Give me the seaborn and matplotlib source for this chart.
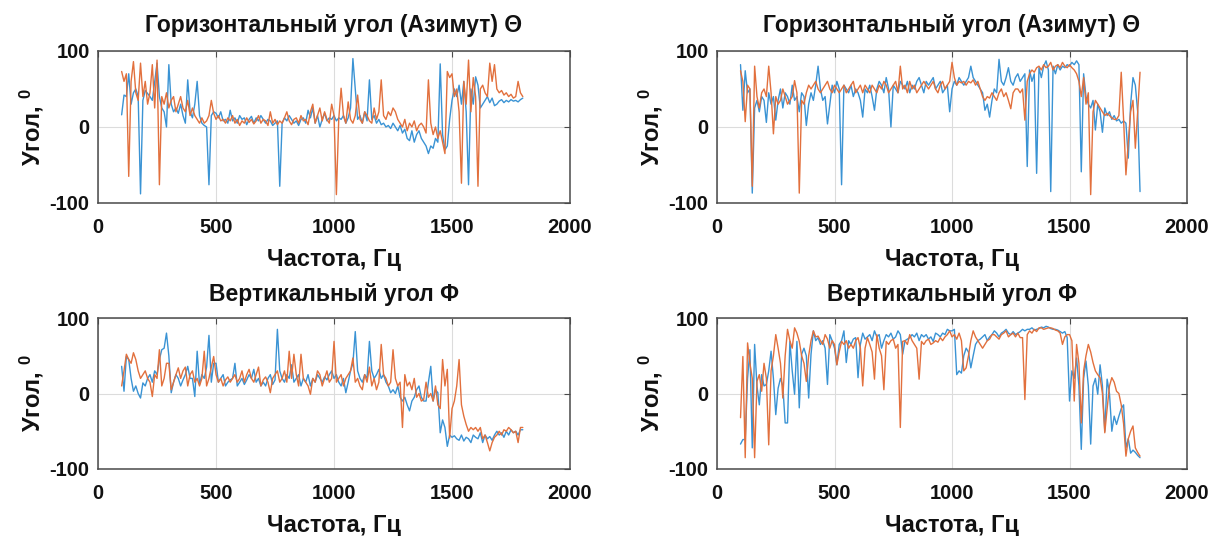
import numpy as np
import pandas as pd
import seaborn as sns
import matplotlib
matplotlib.use("Agg")
import matplotlib.pyplot as plt

# Frequency grid: 100 .. 1800 Hz, step 10 Hz
freq = np.arange(100, 1810, 10)

title_az = "Горизонтальный угол (Азимут) Θ"
title_el = "Вертикальный угол Φ"
xlabel = "Частота, Гц"
ylabel = "Угол, $^{0}$"
xticks = [0, 500, 1000, 1500, 2000]
yticks = [-100, 0, 100]

# Top-left: azimuth, set 1
az1_blue = [16, 42, 40, 70, 30, 45, 50, 40, -88, 35,
            48, 44, 40, 35, 60, 84, 40, 25, 20, 0,
            82, 30, 20, 25, 18, 30, 15, 5, 62, 20,
            12, 30, 60, 15, 5, 2, 0, -76, 15, 20,
            18, 12, 20, 8, 10, 5, 22, 8, 12, 5,
            15, 10, 12, 3, 10, 14, 5, 12, 8, 15,
            10, 5, 10, 8, 2, 5, 8, -78, 5, 12,
            8, 15, 10, 5, 8, 2, 10, 12, 5, 22,
            12, 25, 5, 15, 0, 10, 18, 8, 12, 10,
            15, 8, 12, 10, 15, 5, 12, 25, 90, 50,
            10, 15, 5, 20, 8, 62, 10, 15, 5, 10,
            3, 5, 0, 2, -2, 5, 0, -5, 2, -8,
            -3, -15, -18, -5, -20, -10, -5, -15, -20, -25,
            -35, -25, -28, -15, -20, 83, -10, -30, -25, 10,
            35, 50, 40, 55, 30, 60, 20, -76, 50, 30,
            66, 55, 25, 30, 35, 40, 32, 38, 28, 30,
            34, 36, 32, 35, 33, 36, 34, 35, 33, 36,
            38]
az1_orange = [73, 60, 70, -65, 60, 86, 45, 35, 84, 40,
              60, 30, 45, 82, 25, 88, -76, 40, 30, 45,
              25, 35, 40, 20, 30, 40, 25, 20, 35, 15,
              25, 15, 10, 5, 12, 5, 8, 15, 35, 18,
              10, 15, 8, 10, 5, 12, 8, 15, 5, 10,
              2, 8, 5, 12, 6, 10, 4, 8, 15, 5,
              10, 8, 2, 20, 5, 10, 3, 8, 5, 12,
              20, 8, 3, 10, 12, 5, 15, 8, 10, 3,
              20, 30, 5, 15, 25, 8, 20, 10, 5, 30,
              15, -89, 10, 51, 15, 5, 33, 10, 5, 15,
              42, 10, 5, 20, 15, 8, 5, 25, 10, 20,
              62, 15, 10, 20, 15, 25, 20, 10, 5, 0,
              10, -5, 5, 0, 8, -5, 2, 5, 0, -8,
              62, 5, -10, 0, -15, -5, -20, -35, 73, 65,
              70, 40, 50, 20, -74, 60, 30, 88, 20, 65,
              40, -78, 50, 55, 45, 40, 84, 60, 82, 50,
              45, 48, 42, 45, 40, 43, 38, 40, 60, 45,
              40]

# Top-right: azimuth, set 2
az2_blue = [82, 22, 74, 45, 50, -87, 25, 35, 20, 40,
            35, 6, 45, 30, 40, 9, 35, 50, 25, 45,
            40, 30, 55, 35, 40, 20, 45, 40, 2, 30,
            45, 35, 55, 80, 50, 35, 40, 4, 30, 55,
            45, 60, 50, -76, 55, 50, 45, 55, 40, 50,
            45, 35, 13, 50, 45, 55, 40, 22, 50, 60,
            55, 45, 65, 50, 0, 55, 50, 45, 60, 55,
            50, 60, 45, 55, 50, 60, 65, 55, 45, 60,
            55, 60, 65, 50, 55, 60, 45, 50, 55, 20,
            50, 60, 55, 65, 60, 55, 60, 65, 80, 65,
            60, 55, 50, 45, 22, 30, 13, 35, 50, 45,
            89, 60, 55, 65, 78, 60, 55, 65, 70, 60,
            65, 70, -52, 75, 60, 70, -61, 78, 65, 80,
            87, 75, -85, 80, 70, 82, 75, 80, 78, 82,
            80, 85, 82, 87, 82, -59, 70, 40, 30, 25,
            35, -4, 30, 20, -7, 25, 15, 20, 10, 15,
            8, 10, 5, 8, 5, -41, 30, 65, 55, 20,
            -85]
az2_orange = [74, 60, 7, 55, 50, -78, 80, 40, 25, 45,
              50, 40, 80, 45, -9, 40, 30, 35, 50, 40,
              30, 35, 40, 61, 45, -87, 35, 30, 45, 55,
              50, 55, 60, 50, 45, 50, 55, 60, 50, 45,
              55, 50, 45, 50, 55, 45, 50, 55, 60, 45,
              50, 55, 45, 55, 50, 45, 55, 50, 45, 55,
              50, 60, 55, 45, 50, 55, 60, 45, 80, 50,
              55, 45, 60, 50, 55, 45, 50, 55, 60, 55,
              50, 55, 60, 50, 45, 55, 60, 50, 55, 60,
              85, 65, 55, 60, 58, 60, 55, 60, 58, 62,
              55, 60, 50, 40, 35, 40, 38, 45, 40, 35,
              45, 50, 40, 45, 35, 24, 45, 50, 50, 45,
              50, 9, 60, 70, 75, 72, 78, 80, 75, 82,
              78, 80, 85, 75, 80, 82, 78, 85, 80, 78,
              82, 78, 75, 70, 60, 40, 65, 30, 45, -89,
              20, 35, 30, 25, 20, 15, 18, 15, 12, 10,
              10, 15, 72, 10, -63, -20, 20, 35, -28, 20,
              72]

# Bottom-left: elevation, set 1
el1_blue = [36, 3, 49, 45, 20, 3, 10, 0, -6, 14,
            10, 20, 25, 15, 30, 25, 45, 58, 60, 80,
            50, 1, 15, 25, 20, 10, 18, 25, 36, 20,
            20, -4, 56, 12, 25, 20, 35, 77, 15, 40,
            40, 15, 20, 25, 10, 15, 18, 20, 40, 10,
            15, 20, 12, 18, 25, 20, 32, 15, 20, 10,
            15, 10, 20, 25, 12, 18, 85, 30, 20, 15,
            25, 20, 38, 15, 20, 25, 10, 20, 15, 25,
            10, 20, 15, 25, 20, 15, 22, 18, 25, 30,
            20, 25, 15, 10, 20, 1, 15, 30, 40, 82,
            30, 20, 15, 25, 20, 69, 30, 20, 25, 32,
            20, 25, 15, 10, 1, 5, 0, 10, -5, -10,
            -5, -15, -23, -10, -5, 5, 10, -5, -10, -10,
            15, 36, -10, 5, 1, -52, -35, -45, -70, -55,
            -58, -56, -60, -62, -55, -63, -58, -60, -65, -55,
            -58, -60, -52, -65, -55, -60, -57, -62, -55, -50,
            -55, -52, -58, -50, -55, -48, -52, -50, -55, -48,
            -48]
el1_orange = [10, 30, 52, 45, 40, 54, 45, 30, 20, 25,
              30, 20, 15, -4, 25, 20, 58, 10, 20, 40,
              40, 5, 15, 25, 34, 20, 30, 35, 10, 25,
              30, 15, 20, 10, 20, 56, 10, 20, 35, 49,
              25, 15, 20, 10, 18, 22, 15, 20, 25, 15,
              20, 30, 15, 25, 32, 20, 15, 25, 35, 10,
              18, 22, 15, 1, 20, 25, 30, 15, 20, 30,
              15, 56, 20, 52, 25, 10, 52, 20, 15, 10,
              -1, 20, 15, 30, 25, 10, 20, 30, 15, 20,
              69, 15, 20, 25, 10, 20, 25, 30, 47, 15,
              20, 10, 5, 25, 15, 35, 10, 20, 5, 15,
              65, 25, 20, 10, 15, 58, 20, 10, 15, -45,
              25, 10, 15, 5, 20, -5, 0, -10, -8, 15,
              -5, 0, -10, 10, -15, -20, 45, 10, 32, -59,
              -20, -10, 10, 45, -15, -30, -41, -50, -45, -48,
              -45, -50, -45, -60, -55, -65, -76, -65, -58, -55,
              -50, -55, -48, -50, -45, -48, -52, -50, -65, -45,
              -45]

# Bottom-right: elevation, set 2
el2_blue = [-67, -61, -61, 20, 58, -72, 65, 10, -15, 25,
            10, 12, 30, 56, 20, -28, 7, 20, 10, -39,
            -39, 69, 30, -1, 69, -19, 52, 60, 50, -6,
            52, 83, 70, 74, 65, 70, 60, 12, 78, 70,
            60, 38, 65, 70, 83, 41, 70, 65, 72, 74,
            21, 65, 80, 72, 75, 78, 70, 83, 75, 78,
            60, 70, 78, 75, 80, 72, 75, 83, 78, 52,
            70, 72, 74, 78, 75, 80, 70, 78, 75, 78,
            72, 75, 69, 80, 78, 75, 80, 78, 85, 83,
            83, 85, 25, 30, 27, 50, 60, 55, 34, 50,
            65, 70, 72, 75, 78, 70, 75, 78, 83, 80,
            75, 80, 82, 85, 80, 78, 82, 78, 80, 82,
            85, 83, 85, 85, 87, 84, 85, 86, 88, 87,
            89, 88, 86, 85, 85, 84, 82, 80, 82, 74,
            -10, 30, 20, 47, 10, -74, 20, 43, 10, -67,
            10, 20, -1, 38, 10, -50, 19, 0, -50, -30,
            -41, -30, -20, -15, -72, -60, -79, -75, -78, -82,
            -85]
el2_orange = [-32, 49, -85, 67, 40, 20, -85, 16, 25, 3,
              40, 20, -68, 30, 50, 78, 60, 40, -6, 50,
              85, 70, 60, 87, 80, 69, 50, 40, 16, 50,
              70, 83, 75, 76, 70, 65, 78, 72, 60, 70,
              65, 38, 55, 69, 65, 70, 60, 65, 60, 70,
              74, 60, 10, 60, 74, 65, 55, 19, 78, 60,
              50, 5, 69, 65, 70, 72, 60, 65, -45, 69,
              70, 65, 78, 70, 65, 60, 19, 69, 65, 70,
              72, 65, 67, 70, 68, 74, 70, 75, 78, 83,
              75, 78, 72, 80, 70, 30, 34, 50, 70, 83,
              75, 70, 65, 60, 65, 70, 72, 78, 78, 75,
              72, 78, 80, 83, 75, 78, 80, 75, 80, 74,
              74, -8, 78, 83, 80, 85, 82, 87, 87, 85,
              86, 87, 87, 86, 84, 83, 80, 65, 75, 78,
              78, 70, -10, 65, 40, -39, 30, 50, 65, 55,
              41, 30, 25, 21, 0, -52, -20, 10, 21, 15,
              3, 0, -15, -40, -83, -60, -50, -43, -72, -78,
              -83]

BLUE = "#3a93d4"
ORANGE = "#e2703d"

sns.set_theme(style="white")
plt.rcParams['font.family'] = ['Liberation Sans', 'DejaVu Sans']
plt.rcParams['font.weight'] = 'bold'
plt.rcParams['axes.labelweight'] = 'bold'
plt.rcParams['axes.titleweight'] = 'bold'
plt.rcParams['axes.unicode_minus'] = False
plt.rcParams['mathtext.fontset'] = 'custom'
plt.rcParams['mathtext.rm'] = 'Liberation Sans:bold'
plt.rcParams['mathtext.bf'] = 'Liberation Sans:bold'
plt.rcParams['mathtext.it'] = 'Liberation Sans:bold'
plt.rcParams['mathtext.default'] = 'bf'
plt.rcParams['text.color'] = '#111111'
plt.rcParams['axes.labelcolor'] = '#111111'

fig = plt.figure(figsize=(12.12, 5.36), dpi=100)

panels = [
    ([0.0809, 0.6213, 0.3894, 0.2836], title_az, az1_blue, az1_orange, 14),
    ([0.5916, 0.6213, 0.3878, 0.2836], title_az, az2_blue, az2_orange, 14),
    ([0.0809, 0.1250, 0.3894, 0.2817], title_el, el1_blue, el1_orange, 12.5),
    ([0.5916, 0.1250, 0.3878, 0.2817], title_el, el2_blue, el2_orange, 12.5),
]

for rect, title, blue, orange, tpad in panels:
    ax = fig.add_axes(rect)
    df = pd.DataFrame({
        "f": np.concatenate([freq[:len(blue)], freq[:len(orange)]]),
        "v": np.concatenate([blue, orange]),
        "s": ["b"] * len(blue) + ["o"] * len(orange),
    })
    sns.lineplot(data=df, x="f", y="v", hue="s", palette={"b": BLUE, "o": ORANGE},
                 linewidth=1.0, legend=False, ax=ax, estimator=None, sort=False)
    ax.set_xlim(0, 2000)
    ax.set_ylim(-100, 100)
    ax.set_xticks(xticks)
    ax.set_yticks(yticks)
    ax.grid(True, color="#dcdcdc", linewidth=0.8)
    ax.set_axisbelow(True)
    for sp in ax.spines.values():
        sp.set_visible(True)
        sp.set_color("#4a4a4a")
        sp.set_linewidth(1.1)
    ax.tick_params(axis="both", which="major", direction="in", length=4, width=0.8,
                   color="#4a4a4a", top=True, right=True, labelsize=14.5,
                   labelcolor="#111111")
    ax.tick_params(axis="x", pad=11)
    ax.tick_params(axis="y", pad=6)
    for lab in ax.get_xticklabels() + ax.get_yticklabels():
        lab.set_fontweight("bold")
    ax.set_title(title, fontsize=16.5, fontweight="bold", pad=tpad)
    ax.set_xlabel(xlabel, fontsize=17, fontweight="bold", labelpad=8)
    ax.set_ylabel(ylabel, fontsize=17, fontweight="bold", labelpad=3)

fig.savefig("out.png", dpi=100)
